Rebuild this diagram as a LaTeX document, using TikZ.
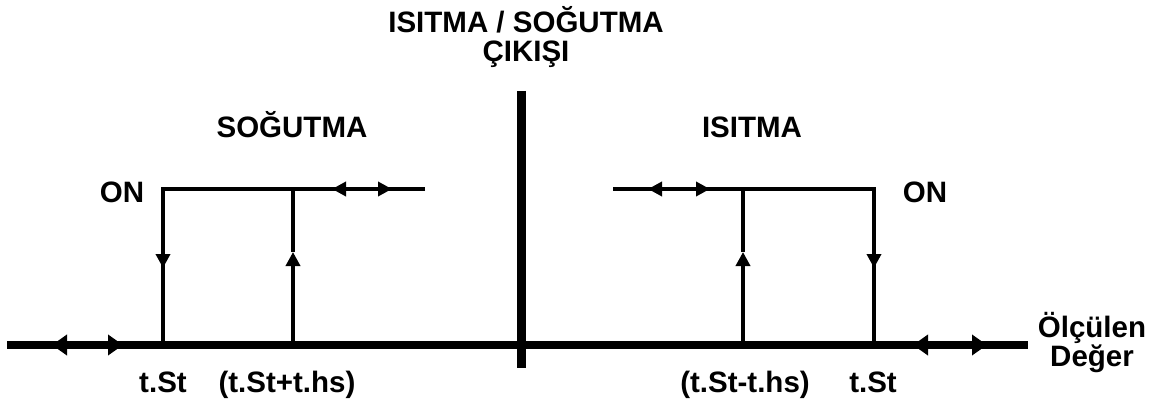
\documentclass[tikz,border=0pt]{standalone}
\usepackage{fontspec}
\setmainfont{Liberation Sans}
\usetikzlibrary{arrows.meta, positioning}
\tikzstyle{every node}=[font=\bfseries\fontsize{29.5}{29}\selectfont]
\tikzset{LabelStyle/.style = {
						anchor         = base,
			      inner sep      = 0pt,
			      outer sep      = 0pt,
			      align          = center,
			      text           = black}
						}
\tikzset{AxisStyle/.style = {line width = 8pt, black}}
\tikzset{LineStyle/.style = {line width = 3.5pt, black}}
\tikzset{AxisTip/.style = {line width = 8pt, {Triangle[length=15pt,width=20pt]}-{Triangle[length=15pt,width=20pt]}}}
\tikzset{LineTip/.style = {line width = 3.5pt, {Triangle[length=14pt,width=14pt]}-{Triangle[length=14pt,width=14pt]}}}
\tikzset{DownTip/.style = {line width = 3.5pt, -{Triangle[length=14pt,width=14pt]}}}

\begin{document}
\begin{tikzpicture}[x=1pt,y=-1pt]
							\useasboundingbox (0,0) rectangle (1156,401);

							% axis and output line
							\coordinate (AxL) at (7,345);
							\coordinate (AxR) at (1028,345);
							\coordinate (OutT) at (521,91);
							\coordinate (OutB) at (521,368);

							% cooling side
							\coordinate (CDn) at (163,345);
							\coordinate (CDnTip) at (163,268);
							\coordinate (CCorner) at (163,189);
							\coordinate (CEnd) at (425,189);
							\coordinate (CUp) at (293,345);
							\coordinate (CUpTip) at (293,252);
							\coordinate (CUpTop) at (293,189);

							% heating side
							\coordinate (HStart) at (613,189);
							\coordinate (HCorner) at (874,189);
							\coordinate (HDn) at (874,345);
							\coordinate (HDnTip) at (874,268);
							\coordinate (HUp) at (743,345);
							\coordinate (HUpTip) at (743,252);
							\coordinate (HUpTop) at (743,189);

							\coordinate (A1) at (52,345);
							\coordinate (A2) at (123,345);
							\coordinate (A3) at (913,345);
							\coordinate (A4) at (987,345);
							\coordinate (B1) at (332,189);
							\coordinate (B2) at (392,189);
							\coordinate (B3) at (648,189);
							\coordinate (B4) at (710,189);

							\draw (526,62) node[LabelStyle] (title) {ISITMA / SO\u{G}UTMA\\\c{C}IKI\c{S}I};
							\draw (292,138) node[LabelStyle] (cool) {SO\u{G}UTMA};
							\draw (752,138) node[LabelStyle] (heat) {ISITMA};
							\draw (122,202) node[LabelStyle] (onL) {ON};
							\draw (925,202) node[LabelStyle] (onR) {ON};
							\draw (163,392) node[LabelStyle] (stL) {t.St};
							\draw (287,392) node[LabelStyle] (stPlus) {(t.St+t.hs)};
							\draw (745,392) node[LabelStyle] (stMinus) {(t.St-t.hs)};
							\draw (873,392) node[LabelStyle] (stR) {t.St};
							\draw (1092,366) node[LabelStyle] (meas) {Ölçülen\\Değer};

							\draw[AxisStyle]    (AxL) to[] (AxR);
							\draw[line width=9pt]    (OutT) to[] (OutB);

							\draw[LineStyle, line join=miter]    (CEnd) -- (CCorner) -- (CDnTip);
							\draw[DownTip]    (CCorner) to[] (CDnTip);
							\draw[LineStyle]    (CDnTip) to[] (CDn);
							\draw[DownTip]    (CUp) to[] (CUpTip);
							\draw[LineStyle]    (CUpTip) to[] (CUpTop);

							\draw[LineStyle, line join=miter]    (HStart) -- (HCorner) -- (HDnTip);
							\draw[DownTip]    (HCorner) to[] (HDnTip);
							\draw[LineStyle]    (HDnTip) to[] (HDn);
							\draw[DownTip]    (HUp) to[] (HUpTip);
							\draw[LineStyle]    (HUpTip) to[] (HUpTop);

							\draw[AxisTip]    (A1) to[] (A2);
							\draw[AxisTip]    (A3) to[] (A4);
							\draw[LineTip]    (B1) to[] (B2);
							\draw[LineTip]    (B3) to[] (B4);

					\end{tikzpicture}
\end{document}
